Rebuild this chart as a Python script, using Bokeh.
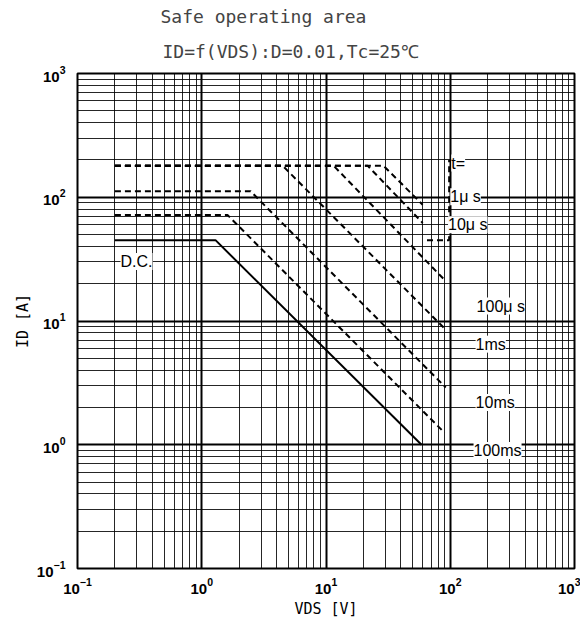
from bokeh.plotting import figure
from bokeh.models import Label, Title, LogTicker
from bokeh.embed import file_html
from bokeh.resources import INLINE

# ---- data (VDS in V, ID in A) ----
dc_v = [0.2, 1.29, 58.7]
dc_i = [45, 45, 1.0]

t1us_v = [0.2, 29, 60]
t1us_i = [180, 180, 87]
t10us_v = [0.2, 21.6, 60]
t10us_i = [180, 180, 62]
t100us_v = [0.2, 11.5, 92]
t100us_i = [180, 180, 21]
t1ms_v = [0.2, 4.47, 92]
t1ms_i = [180, 180, 8.5]
t10ms_v = [0.2, 2.47, 92]
t10ms_i = [112, 112, 2.9]
t100ms_v = [0.2, 1.61, 90]
t100ms_i = [72, 72, 1.25]
limit_v = [65, 98, 98]
limit_i = [45, 45, 200]

label_texts = ["t=", "1μ s", "10μ s", "100μ s", "1ms", "10ms", "100ms", "D.C."]
label_v = [102, 100, 96, 163, 160, 160, 154, 0.222]
label_i = [189, 101, 60, 13.2, 6.5, 2.19, 0.90, 30.3]

title_1 = "Safe operating area"
title_2 = "ID=f(VDS):D=0.01,Tc=25℃"
x_title = "VDS [V]"
y_title = "ID [A]"

p = figure(width=580, height=620, x_axis_type="log", y_axis_type="log",
           x_range=(0.1, 1000), y_range=(0.1, 1000),
           output_backend="svg", toolbar_location=None,
           min_border_left=77, min_border_right=6, min_border_top=73, min_border_bottom=49)

xt = LogTicker(mantissas=[1], desired_num_ticks=4, num_minor_ticks=10)
yt = LogTicker(mantissas=[1], desired_num_ticks=4, num_minor_ticks=10)
p.xaxis.ticker = xt
p.xgrid.ticker = xt
p.yaxis.ticker = yt
p.ygrid.ticker = yt

p.background_fill_color = "white"
p.border_fill_color = "white"
p.outline_line_color = "black"
p.outline_line_width = 2

for g in (p.xgrid, p.ygrid):
    g.grid_line_color = "black"
    g.grid_line_width = 2
    g.grid_line_alpha = 1.0
    g.minor_grid_line_color = "black"
    g.minor_grid_line_width = 1
    g.minor_grid_line_alpha = 0.85

for ax in (p.xaxis, p.yaxis):
    ax.axis_line_color = None
    ax.major_tick_line_color = None
    ax.minor_tick_line_color = None
    ax.major_tick_in = 0
    ax.major_tick_out = 0
    ax.minor_tick_in = 0
    ax.minor_tick_out = 0
    ax.major_label_text_font = "Liberation Sans"
    ax.major_label_text_font_style = "bold"
    ax.major_label_text_font_size = "15px"
    ax.major_label_text_color = "black"
    ax.axis_label_text_font = "DejaVu Sans Mono"
    ax.axis_label_text_font_style = "normal"
    ax.axis_label_text_font_size = "15px"
    ax.axis_label_text_color = "black"

p.xaxis.axis_label = x_title
p.yaxis.axis_label = y_title
p.xaxis.major_label_standoff = 9
p.yaxis.major_label_standoff = 12
p.xaxis.axis_label_standoff = 3
p.yaxis.axis_label_standoff = 2

p.add_layout(Title(text=title_2, align="left", offset=85,
                   text_font="DejaVu Sans Mono", text_font_size="18px",
                   text_font_style="normal", standoff=24), "above")
p.add_layout(Title(text=title_1, align="left", offset=83,
                   text_font="DejaVu Sans Mono", text_font_size="18px",
                   text_font_style="normal", standoff=0), "above")

# curves
p.line(dc_v, dc_i, line_color="black", line_width=2)
for xs, ys in [(t1us_v, t1us_i), (t10us_v, t10us_i), (t100us_v, t100us_i),
               (t1ms_v, t1ms_i), (t10ms_v, t10ms_i), (t100ms_v, t100ms_i),
               (limit_v, limit_i)]:
    p.line(xs, ys, line_color="black", line_width=2, line_dash="6 4")

for txt, xv, yv in zip(label_texts, label_v, label_i):
    p.add_layout(Label(x=xv, y=yv, text=txt, text_align="left", text_baseline="middle",
                       text_font="Liberation Sans", text_font_size="16px",
                       text_color="black", background_fill_color="white"))

open("out.html", "w").write(file_html(p, INLINE))
